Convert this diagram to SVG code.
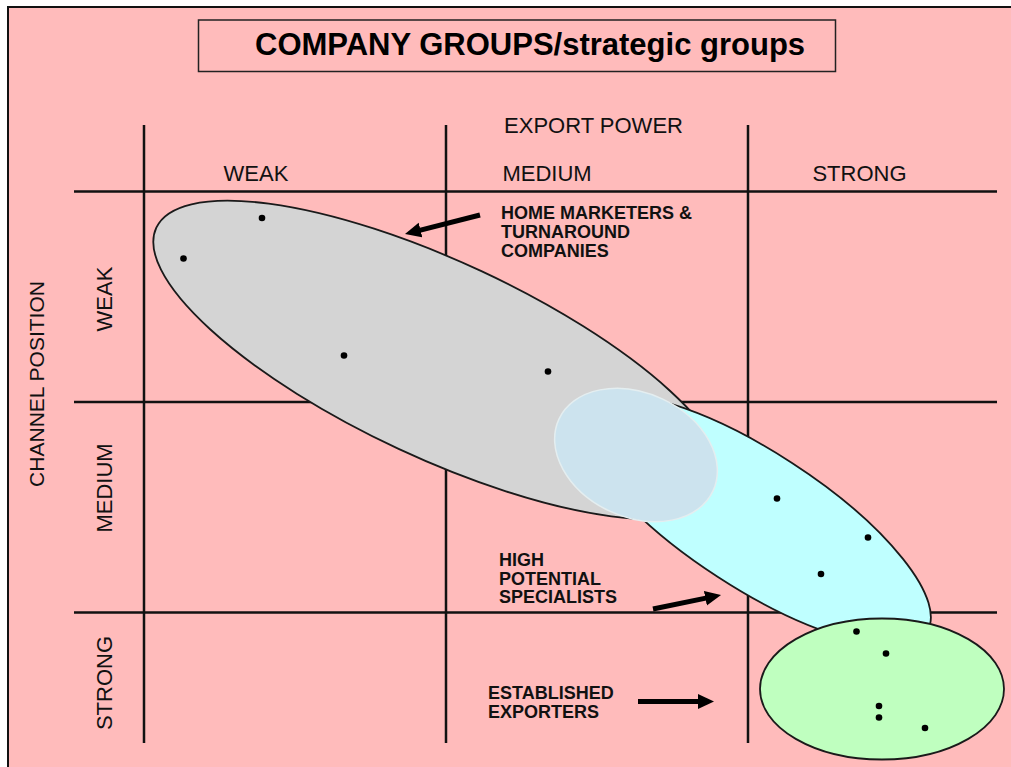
<svg xmlns="http://www.w3.org/2000/svg" width="1011" height="767" viewBox="0 0 1011 767">
  <style>
    .grid { stroke: #111; stroke-width: 2.5; fill: none; }
    .axis { font-family: "Liberation Sans", Arial, sans-serif; font-size: 22px; fill: #111; }
    .lbl { font-family: "Liberation Sans", Arial, sans-serif; font-size: 18px; font-weight: bold; fill: #111; }
    .grp { stroke: #1a1a1a; stroke-width: 1.8; }
    .dot { fill: #000; }
    .arrow { stroke: #000; stroke-width: 5; fill: none; marker-end: url(#head); }
  </style>
  <defs>
    <marker id="head" markerUnits="userSpaceOnUse" markerWidth="16" markerHeight="16" refX="3" refY="7.5" orient="auto">
      <path d="M0,0 L16,7.5 L0,15 z" fill="#000"/>
    </marker>
  </defs>

  <!-- page -->
  <rect x="0" y="0" width="1011" height="767" fill="#fff"/>
  <rect x="8" y="7" width="1003" height="760" fill="#FFBBBB"/>
  <path d="M8,767 L8,7 L1011,7" fill="none" stroke="#111" stroke-width="2"/>

  <!-- title -->
  <g id="title">
    <rect x="198.5" y="20" width="637" height="51.5" fill="none" stroke="#222" stroke-width="1.5"/>
    <text x="255" y="55" font-family="Liberation Sans, Arial, sans-serif" font-size="31" font-weight="bold" fill="#000">COMPANY GROUPS/strategic groups</text>
  </g>

  <!-- matrix grid -->
  <g id="grid">
    <line class="grid" x1="74" y1="191.5" x2="997" y2="191.5"/>
    <line class="grid" x1="74" y1="402" x2="997" y2="402"/>
    <line class="grid" x1="74" y1="612.5" x2="997" y2="612.5"/>
    <line class="grid" x1="144" y1="125" x2="144" y2="743"/>
    <line class="grid" x1="446" y1="125" x2="446" y2="743"/>
    <line class="grid" x1="748" y1="125" x2="748" y2="743"/>
  </g>

  <!-- axis labels -->
  <g id="axis-labels" class="axis">
    <text x="593.5" y="133" text-anchor="middle">EXPORT POWER</text>
    <text x="256" y="181" text-anchor="middle">WEAK</text>
    <text x="547" y="181" text-anchor="middle">MEDIUM</text>
    <text x="859.5" y="181" text-anchor="middle">STRONG</text>
    <text transform="translate(43.5,384) rotate(-90)" text-anchor="middle" font-size="21">CHANNEL POSITION</text>
    <text transform="translate(112,299) rotate(-90)" text-anchor="middle">WEAK</text>
    <text transform="translate(112,488) rotate(-90)" text-anchor="middle">MEDIUM</text>
    <text transform="translate(112,683) rotate(-90)" text-anchor="middle">STRONG</text>
  </g>

  <!-- home marketers & turnaround companies -->
  <g id="home-marketers">
    <ellipse class="grp" cx="440" cy="360" rx="313" ry="98" transform="rotate(25 440 360)" fill="#D4D4D4"/>
    <circle class="dot" cx="262" cy="218" r="3.3"/>
    <circle class="dot" cx="183.5" cy="258.5" r="3.3"/>
    <circle class="dot" cx="344" cy="355.5" r="3.3"/>
    <circle class="dot" cx="548" cy="371.5" r="3.3"/>
  </g>

  <!-- high potential specialists -->
  <g id="high-potential">
    <ellipse class="grp" cx="755" cy="520" rx="205" ry="68" transform="rotate(33 755 520)" fill="#BFFFFF"/>
    <ellipse cx="636" cy="455" rx="85" ry="62" transform="rotate(25 636 455)" fill="#CCE3EE" stroke="#E4EEF0" stroke-width="1.5"/>
    <circle class="dot" cx="777" cy="498.5" r="3.3"/>
    <circle class="dot" cx="868" cy="537.5" r="3.3"/>
    <circle class="dot" cx="821" cy="574" r="3.3"/>
  </g>

  <!-- established exporters -->
  <g id="established">
    <ellipse class="grp" cx="882" cy="689" rx="122" ry="70.5" fill="#BFFFBF"/>
    <circle class="dot" cx="856.5" cy="631.5" r="3.3"/>
    <circle class="dot" cx="886" cy="653.5" r="3.3"/>
    <circle class="dot" cx="879" cy="706" r="3.3"/>
    <circle class="dot" cx="879" cy="717.5" r="3.3"/>
    <circle class="dot" cx="925" cy="728" r="3.3"/>
  </g>

  <!-- group captions -->
  <g id="captions" class="lbl">
    <text x="501" y="219">HOME MARKETERS &amp;</text>
    <text x="501" y="238">TURNAROUND</text>
    <text x="501" y="257">COMPANIES</text>
    <text x="499" y="566">HIGH</text>
    <text x="499" y="585">POTENTIAL</text>
    <text x="499" y="603">SPECIALISTS</text>
    <text x="488" y="699">ESTABLISHED</text>
    <text x="488" y="718">EXPORTERS</text>
  </g>

  <!-- pointers -->
  <g id="connectors">
    <line class="arrow" x1="480" y1="215" x2="417.6" y2="230.8"/>
    <line class="arrow" x1="653" y1="609" x2="708.3" y2="597.6"/>
    <line class="arrow" x1="638" y1="701.5" x2="701" y2="701.5"/>
  </g>
</svg>
